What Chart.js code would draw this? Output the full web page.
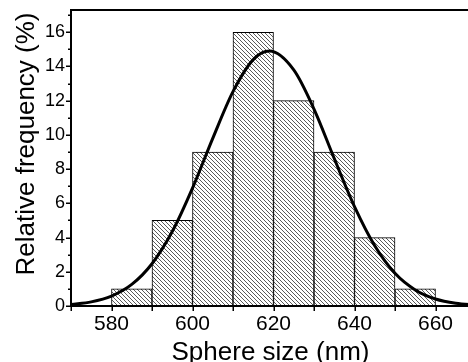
<!DOCTYPE html>
<html>
<head>
<meta charset="utf-8">
<script src="https://cdn.jsdelivr.net/npm/chart.js@4/dist/chart.umd.min.js"></script>
<style>
html,body{margin:0;padding:0;background:#fff;overflow:hidden;width:468px;height:362px;}
canvas{display:block;}
</style>
</head>
<body>
<canvas id="c" width="480" height="362"></canvas>
<script>
// Histogram bins (centre of each 10 nm bin) and relative frequency (%)
const binCenters = [585, 595, 605, 615, 625, 635, 645, 655];
const binFreq    = [1, 5, 9, 16, 12, 9, 4, 1];
// Gaussian fit curve
const fitX = [570, 575, 580, 585, 590, 595, 600, 605, 610, 615, 619, 625, 630, 635, 640, 645, 650, 655, 660, 665, 670];
const fitY = [0.09, 0.24, 0.58, 1.26, 2.47, 4.35, 6.89, 9.80, 12.53, 14.40, 14.90, 13.80, 11.51, 8.62, 5.81, 3.52, 1.91, 0.94, 0.41, 0.16, 0.06];
// Axis labels
const xTitle = 'Sphere size (nm)';
const yTitle = 'Relative frequency (%)';
const xLabelTicks = [580, 600, 620, 640, 660];
const yLabelTicks = [0, 2, 4, 6, 8, 10, 12, 14, 16];

const FONT = '"Liberation Sans", Arial, Helvetica, sans-serif';
Chart.defaults.color = '#000';
Chart.defaults.font.family = FONT;

// hatch pattern (\\\ diagonal)
function hatch() {
  const p = document.createElement('canvas');
  p.width = 4; p.height = 4;
  const g = p.getContext('2d');
  g.fillStyle = '#fff';
  g.fillRect(0, 0, 4, 4);
  g.fillStyle = '#5a5a5a';
  for (let i = 0; i < 4; i++) g.fillRect(i, i, 1, 1);
  return g.createPattern(p, 'repeat');
}

const framePlugin = {
  id: 'frame',
  afterDatasetsDraw(chart) {
    const {ctx, chartArea: a, scales: {x, y}} = chart;
    ctx.save();
    ctx.strokeStyle = '#000';
    ctx.lineWidth = 2;
    ctx.strokeRect(a.left, a.top, a.right - a.left, a.bottom - a.top);
    ctx.lineWidth = 1.5;
    ctx.beginPath();
    for (let v = x.min; v <= x.max + 0.001; v += 10) {
      const px = Math.round(x.getPixelForValue(v)) + 0.25;
      ctx.moveTo(px, a.bottom);
      ctx.lineTo(px, a.bottom + 5);
    }
    for (let v = 0; v <= y.max; v += 1) {
      const py = Math.round(y.getPixelForValue(v)) + 0.25;
      const len = (v % 2 === 0) ? 5 : 3;
      ctx.moveTo(a.left, py);
      ctx.lineTo(a.left - len, py);
    }
    ctx.stroke();
    ctx.restore();
  },
  afterDraw(chart) {
    const {ctx} = chart;
    ctx.save();
    ctx.fillStyle = '#000';
    ctx.font = '26px ' + FONT;
    ctx.textAlign = 'center';
    ctx.textBaseline = 'alphabetic';
    ctx.fillText(xTitle, 270.5, 360);
    ctx.translate(33.5, 144);
    ctx.rotate(-Math.PI / 2);
    ctx.fillText(yTitle, 0, 0);
    ctx.restore();
  }
};

const ctx = document.getElementById('c').getContext('2d');
new Chart(ctx, {
  data: {
    datasets: [
      {
        type: 'line',
        order: 0,
        data: fitX.map((v, i) => ({x: v, y: fitY[i]})),
        borderColor: '#000',
        borderWidth: 3,
        pointRadius: 0,
        cubicInterpolationMode: 'monotone',
        fill: false
      },
      {
        type: 'bar',
        order: 1,
        data: binCenters.map((v, i) => ({x: v, y: binFreq[i]})),
        backgroundColor: hatch(),
        borderColor: '#000',
        borderWidth: 1,
        borderSkipped: false,
        barPercentage: 1,
        categoryPercentage: 1
      }
    ]
  },
  options: {
    responsive: false,
    devicePixelRatio: 1,
    animation: false,
    layout: {padding: {left: 0, top: 10, right: 4, bottom: 0}},
    plugins: {legend: {display: false}, tooltip: {enabled: false}},
    scales: {
      x: {
        type: 'linear',
        min: 570,
        max: 670,
        offset: false,
        grid: {display: false, drawTicks: false, offset: false},
        border: {display: false},
        ticks: {
          stepSize: 10,
          autoSkip: false,
          maxRotation: 0,
          padding: 6,
          font: {size: 21, family: FONT},
          callback: v => xLabelTicks.includes(v) ? String(v) : ''
        },
        afterFit(s) { s.height = 56; s.paddingLeft = 0; s.paddingRight = 0; }
      },
      y: {
        min: 0,
        max: 17.3,
        grid: {display: false, drawTicks: false},
        border: {display: false},
        ticks: {
          stepSize: 2,
          includeBounds: false,
          padding: 6,
          font: {size: 18, family: FONT, lineHeight: 1},
          callback: v => yLabelTicks.includes(v) ? String(v) : ''
        },
        afterFit(s) { s.width = 71; s.paddingTop = 0; s.paddingBottom = 0; }
      }
    }
  },
  plugins: [framePlugin]
});
</script>
</body>
</html>
